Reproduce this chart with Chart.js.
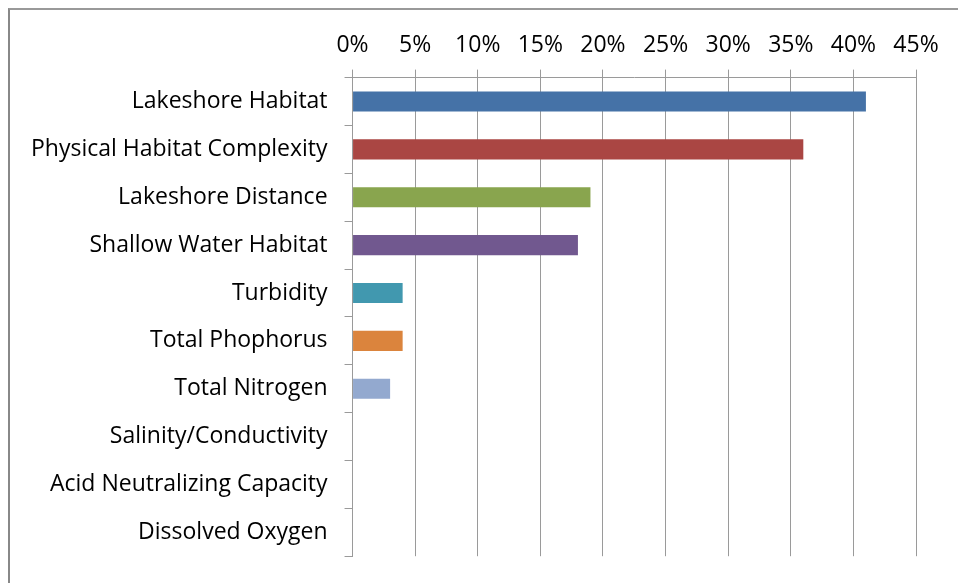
<!DOCTYPE html>
<html>
<head>
<meta charset="utf-8">
<script src="https://cdn.jsdelivr.net/npm/chart.js@4.4.0/dist/chart.umd.min.js"></script>
<style>
  html, body { margin: 0; padding: 0; background: #fff; overflow: hidden; }
  #frame { position: absolute; left: 8px; top: 8px; width: 960px; height: 590px;
           border-left: 2px solid #888; border-top: 2px solid #999; }
  #wrap { position: absolute; left: 0; top: 0; width: 958px; height: 587px; }
</style>
</head>
<body>
<div id="frame"></div>
<div id="wrap"><canvas id="myChart"></canvas></div>
<script>
  // factors and their share (fraction)
  const categories = [
    'Lakeshore Habitat',
    'Physical Habitat Complexity',
    'Lakeshore Distance',
    'Shallow Water Habitat',
    'Turbidity',
    'Total Phophorus',
    'Total Nitrogen',
    'Salinity/Conductivity',
    'Acid Neutralizing Capacity',
    'Dissolved Oxygen'
  ];
  const shares = [0.41, 0.36, 0.19, 0.18, 0.04, 0.04, 0.03, 0, 0, 0];
  const barColors = [
    '#4572A7', '#AA4643', '#89A54E', '#71588F', '#4198AF',
    '#DB843D', '#93A9CF', '#D19392', '#B9CD96', '#A99BBD'
  ];
  const xTicks = [0, 0.05, 0.10, 0.15, 0.20, 0.25, 0.30, 0.35, 0.40, 0.45];

  const gridGray = '#9a9a9a';
  const font = { family: 'Open Sans', size: 23 };

  const myChart = new Chart('myChart', {
    type: 'bar',
    data: {
      labels: categories,
      datasets: [{
        data: shares,
        backgroundColor: barColors,
        barPercentage: 0.42,
        categoryPercentage: 1
      }]
    },
    options: {
      indexAxis: 'y',
      responsive: true,
      maintainAspectRatio: false,
      animation: false,
      layout: { padding: { top: 22, right: 42, bottom: 16, left: 14 } },
      plugins: { legend: { display: false }, tooltip: { enabled: false } },
      scales: {
        x: {
          position: 'top',
          min: 0,
          max: 0.45,
          afterBuildTicks: (axis) => { axis.ticks = xTicks.map(v => ({ value: v })); },
          ticks: {
            color: '#000',
            font: font,
            padding: 10,
            maxRotation: 0,
            callback: (v) => Math.round(v * 100) + '%'
          },
          grid: { color: gridGray, tickLength: 8, lineWidth: 1 },
          border: { color: gridGray }
        },
        y: {
          ticks: { color: '#000', font: font, padding: 17 },
          grid: { offset: true, drawOnChartArea: false, color: gridGray, tickLength: 8 },
          border: { color: gridGray }
        }
      }
    }
  });
</script>
</body>
</html>
